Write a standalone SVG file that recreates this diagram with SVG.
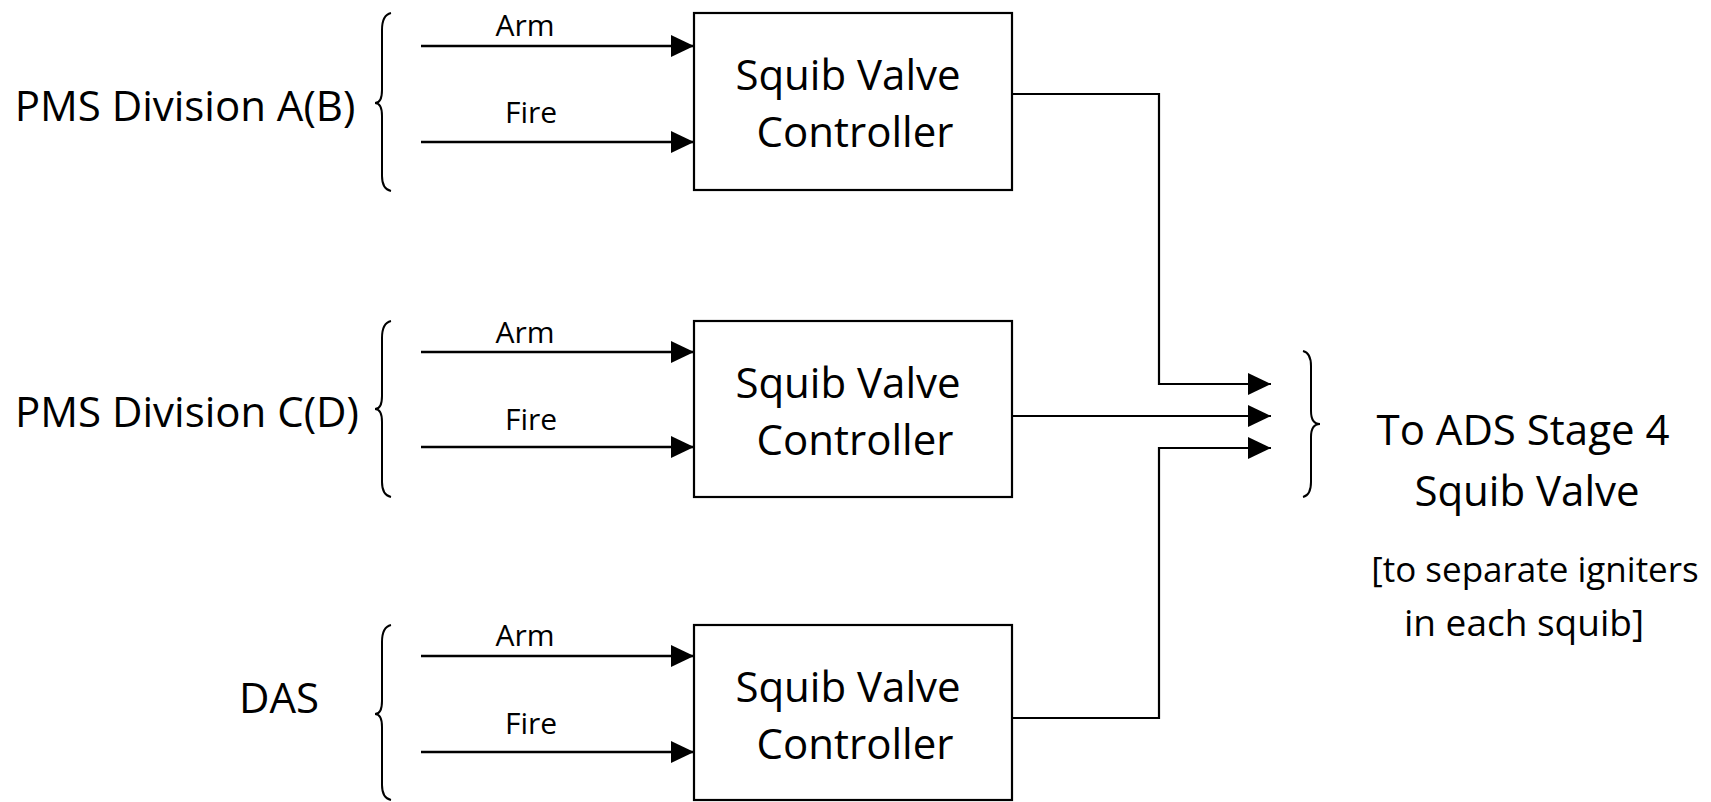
<svg xmlns="http://www.w3.org/2000/svg" width="1711" height="802" viewBox="0 0 1711 802">
<style>
.bg{fill:#fff}
.box{fill:#fff;stroke:#000;stroke-width:2.2}
.t{font-family:"Open Sans","Noto Sans","Liberation Sans",sans-serif;font-size:42px;fill:#000;text-anchor:middle}
.s{font-family:"Open Sans","Noto Sans","Liberation Sans",sans-serif;font-size:30px;fill:#000;text-anchor:middle}
.n{font-family:"Open Sans","Noto Sans","Liberation Sans",sans-serif;font-size:37px;fill:#000;text-anchor:middle}
.w{fill:none;stroke:#000;stroke-width:2.5}
.o{fill:none;stroke:#000;stroke-width:2.2}
.br{fill:none;stroke:#000;stroke-width:2}
</style>
<defs>
<marker id="ah" viewBox="0 0 23 22" refX="23" refY="11" markerWidth="23" markerHeight="22" markerUnits="userSpaceOnUse" orient="auto">
<path d="M0,0 L23,11 L0,22 z" fill="#000"/>
</marker>
</defs>
<rect class="bg" x="0" y="0" width="1711" height="802"/>

<g id="src-ab">
<text class="t" x="185" y="121">PMS Division A(B)</text>
<path class="br" d="M391,13 Q382,15 382,30 L382,90 Q382,103 375,103 Q382,103 382,116 L382,176 Q382,189 391,191"/>
</g>
<g id="src-cd">
<text class="t" x="187" y="427">PMS Division C(D)</text>
<path class="br" d="M391,321 Q382,323 382,338 L382,396 Q382,409 375,409 Q382,409 382,422 L382,482 Q382,495 391,497"/>
</g>
<g id="src-das">
<text class="t" x="279" y="713">DAS</text>
<path class="br" d="M391,625 Q382,627 382,642 L382,701 Q382,714 375,714 Q382,714 382,727 L382,785 Q382,798 391,800"/>
</g>

<g id="ctrl-1">
<rect class="box" x="694" y="13" width="318" height="177"/>
<text class="t" x="848" y="90">Squib Valve</text>
<text class="t" x="855" y="147">Controller</text>
</g>
<g id="ctrl-2">
<rect class="box" x="694" y="321" width="318" height="176"/>
<text class="t" x="848" y="398">Squib Valve</text>
<text class="t" x="855" y="455">Controller</text>
</g>
<g id="ctrl-3">
<rect class="box" x="694" y="625" width="318" height="175"/>
<text class="t" x="848" y="702">Squib Valve</text>
<text class="t" x="855" y="759">Controller</text>
</g>

<g id="target">
<path class="br" d="M1303,351 Q1311,353 1311,366 L1311,411 Q1311,424 1320,424 Q1311,424 1311,437 L1311,482 Q1311,495 1303,497"/>
<text class="t" x="1523" y="445">To ADS Stage 4</text>
<text class="t" x="1527" y="506">Squib Valve</text>
<text class="n" x="1535" y="582" style="font-size:35px">[to separate igniters</text>
<text class="n" x="1524" y="636">in each squib]</text>
</g>

<g id="connectors">
<line class="w" x1="421" y1="46" x2="694" y2="46" marker-end="url(#ah)"/>
<line class="w" x1="421" y1="142" x2="694" y2="142" marker-end="url(#ah)"/>
<line class="w" x1="421" y1="352" x2="694" y2="352" marker-end="url(#ah)"/>
<line class="w" x1="421" y1="447" x2="694" y2="447" marker-end="url(#ah)"/>
<line class="w" x1="421" y1="656" x2="694" y2="656" marker-end="url(#ah)"/>
<line class="w" x1="421" y1="752" x2="694" y2="752" marker-end="url(#ah)"/>
<text class="s" x="525" y="36">Arm</text>
<text class="s" x="531" y="123">Fire</text>
<text class="s" x="525" y="343">Arm</text>
<text class="s" x="531" y="430">Fire</text>
<text class="s" x="525" y="646">Arm</text>
<text class="s" x="531" y="734">Fire</text>
<path class="o" d="M1012,94 H1159 V384 H1271" marker-end="url(#ah)"/>
<path class="o" d="M1012,416 H1271" marker-end="url(#ah)"/>
<path class="o" d="M1012,718 H1159 V448 H1271" marker-end="url(#ah)"/>
</g>
</svg>
